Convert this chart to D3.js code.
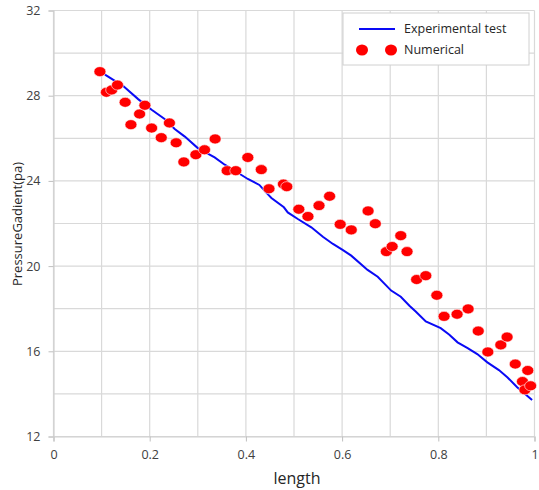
<!DOCTYPE html>
<html>
<head>
<meta charset="utf-8">
<script src="https://cdn.jsdelivr.net/npm/d3@7"></script>
<style>
body { margin: 0; background: #fff; }
text { font-family: "Open Sans", "Liberation Sans", sans-serif; }
</style>
</head>
<body>
<div id="chart"></div>
<script>
var width = 539,
	height = 490;

// Experimental test (blue line)
var expX = [0.107, 0.145, 0.176, 0.204, 0.231, 0.252, 0.273, 0.300, 0.335, 0.356, 0.380, 0.404, 0.428, 0.442, 0.453, 0.479, 0.487, 0.508, 0.536, 0.560, 0.581, 0.601, 0.619, 0.653, 0.674, 0.702, 0.722, 0.740, 0.753, 0.774, 0.805, 0.823, 0.840, 0.861, 0.881, 0.902, 0.926, 0.944, 0.964, 0.995];
var expY = [28.99, 28.45, 27.84, 27.34, 26.91, 26.44, 26.08, 25.54, 25.10, 24.76, 24.43, 24.09, 23.81, 23.46, 23.20, 22.76, 22.52, 22.21, 21.82, 21.38, 21.04, 20.76, 20.49, 19.82, 19.50, 18.85, 18.56, 18.14, 17.87, 17.40, 17.09, 16.78, 16.42, 16.15, 15.87, 15.48, 15.12, 14.77, 14.31, 13.71];

// Numerical (red dots)
var numX = [0.0965, 0.110, 0.121, 0.133, 0.149, 0.161, 0.179, 0.190, 0.204, 0.224, 0.241, 0.255, 0.271, 0.296, 0.314, 0.336, 0.361, 0.379, 0.404, 0.432, 0.448, 0.478, 0.485, 0.510, 0.529, 0.552, 0.574, 0.596, 0.619, 0.654, 0.669, 0.692, 0.704, 0.722, 0.735, 0.755, 0.774, 0.797, 0.812, 0.839, 0.862, 0.883, 0.903, 0.930, 0.943, 0.960, 0.986, 0.975, 0.980, 0.992];
var numY = [29.13, 28.16, 28.27, 28.50, 27.69, 26.64, 27.14, 27.55, 26.48, 26.03, 26.72, 25.79, 24.89, 25.23, 25.46, 25.97, 24.48, 24.48, 25.10, 24.53, 23.63, 23.85, 23.73, 22.67, 22.33, 22.84, 23.28, 21.96, 21.70, 22.59, 21.99, 20.68, 20.92, 21.43, 20.68, 19.37, 19.55, 18.63, 17.64, 17.74, 17.99, 16.95, 15.97, 16.30, 16.67, 15.40, 15.10, 14.58, 14.19, 14.38];

var xTicks = [0, 0.2, 0.4, 0.6, 0.8, 1];
var yTicks = [12, 16, 20, 24, 28, 32];
var xGrid = d3.range(0, 11).map(d => d / 10);
var yGrid = d3.range(12, 33, 2);

var seriesNames = ['Experimental test', 'Numerical'];

var svg = d3.select('#chart').append('svg')
	.attr('width', width)
	.attr('height', height);

var x = d3.scaleLinear().domain([0, 1]).range([53.5, 534.5]);
var y = d3.scaleLinear().domain([12, 32]).range([436.5, 10.5]);

// grid
svg.append('g').classed('grid', true)
	.selectAll('line.v')
	.data(xGrid)
	.enter().append('line')
	.attr('x1', d => x(d)).attr('x2', d => x(d))
	.attr('y1', y(32)).attr('y2', y(12))
	.attr('stroke', '#d9d9d9').attr('stroke-width', 1.2);

svg.append('g').classed('grid', true)
	.selectAll('line.h')
	.data(yGrid)
	.enter().append('line')
	.attr('x1', x(0)).attr('x2', x(1))
	.attr('y1', d => y(d)).attr('y2', d => y(d))
	.attr('stroke', '#d9d9d9').attr('stroke-width', 1.2);

// axes
var xAxis = d3.axisBottom(x).tickValues(xTicks).tickFormat(d3.format('')).tickSize(5).tickPadding(9);
var yAxis = d3.axisLeft(y).tickValues(yTicks).tickSize(5).tickPadding(8);

var gx = svg.append('g')
	.attr('transform', 'translate(0,' + y(12) + ')')
	.call(xAxis);
var gy = svg.append('g')
	.attr('transform', 'translate(' + x(0) + ',0)')
	.call(yAxis);

[gx, gy].forEach(function(g) {
	g.select('.domain').attr('stroke', '#d0d0d0').attr('stroke-width', 1.2);
	g.selectAll('.tick line').attr('stroke', '#bfbfbf');
	g.selectAll('.tick text')
		.attr('fill', '#404040')
		.style('font-size', '12.5px');
});

// experimental line
var line = d3.line()
	.x(d => x(d[0]))
	.y(d => y(d[1]));

svg.append('path')
	.datum(d3.zip(expX, expY))
	.attr('d', line)
	.attr('fill', 'none')
	.attr('stroke', '#0a0af5')
	.attr('stroke-width', 2);

// numerical dots
svg.append('g').classed('dots', true)
	.selectAll('ellipse')
	.data(d3.zip(numX, numY))
	.enter().append('ellipse')
	.attr('cx', d => x(d[0]))
	.attr('cy', d => y(d[1]))
	.attr('rx', 6)
	.attr('ry', 5)
	.attr('fill', '#ff0000')
	.attr('stroke', '#fff')
	.attr('stroke-width', 0.6);

// axis titles
svg.append('text')
	.attr('x', x(0.5) + 3)
	.attr('y', 484)
	.attr('text-anchor', 'middle')
	.attr('fill', '#262626')
	.style('font-size', '16px')
	.text('length');

svg.append('text')
	.attr('transform', 'translate(22,224) rotate(-90)')
	.attr('text-anchor', 'middle')
	.attr('fill', '#262626')
	.style('font-size', '13px')
	.text('PressureGadient(pa)');

// legend
var legend = svg.append('g').attr('transform', 'translate(343,13)');
legend.append('rect')
	.attr('width', 186).attr('height', 52)
	.attr('fill', '#fff')
	.attr('stroke', '#d0d0d0');
legend.append('line')
	.attr('x1', 16).attr('x2', 52)
	.attr('y1', 16).attr('y2', 16)
	.attr('stroke', '#0a0af5').attr('stroke-width', 2);
legend.selectAll('ellipse')
	.data([19, 48])
	.enter().append('ellipse')
	.attr('cx', d => d).attr('cy', 37)
	.attr('rx', 6).attr('ry', 5.5)
	.attr('fill', '#ff0000');
legend.selectAll('text.lbl')
	.data(seriesNames)
	.enter().append('text')
	.attr('x', 61)
	.attr('y', (d, i) => 20 + i * 21)
	.attr('fill', '#262626')
	.style('font-size', '12.5px')
	.text(d => d);
</script>
</body>
</html>
